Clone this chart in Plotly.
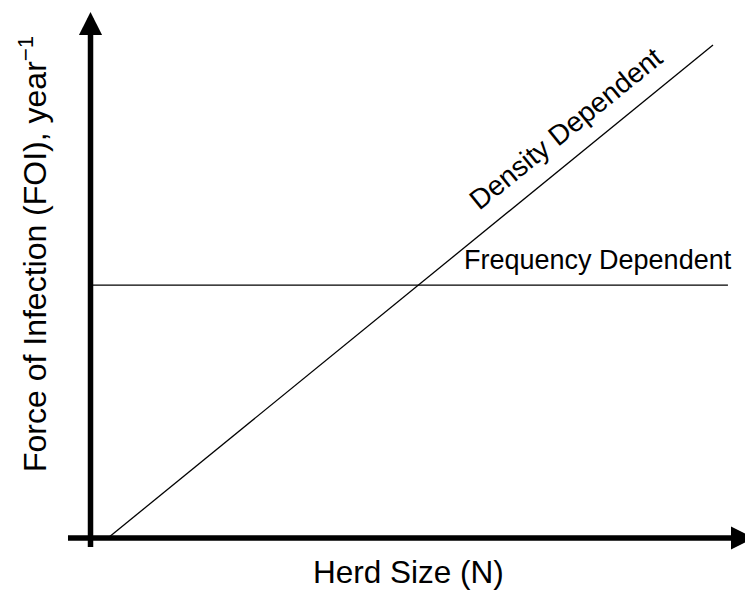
import plotly.graph_objects as go

# schematic: force of infection vs herd size
herd_size_density = [0.28, 10.0]
foi_density = [0.0, 10.0]
herd_size_freq = [0.0, 10.24]
foi_freq = [5.13, 5.13]

line_labels = ["Density Dependent", "Frequency Dependent"]
x_title = "Herd Size (N)"
y_title = "Force of Infection (FOI), year<sup>\u22121</sup>"

FONT = "Liberation Sans, Arial, sans-serif"

fig = go.Figure()

fig.add_trace(go.Scatter(
    x=herd_size_density, y=foi_density, mode="lines",
    line=dict(color="black", width=1.3), hoverinfo="skip", showlegend=False
))
fig.add_trace(go.Scatter(
    x=herd_size_freq, y=foi_freq, mode="lines",
    line=dict(color="black", width=1.3), hoverinfo="skip", showlegend=False
))

# axis arrows
arrow = dict(showarrow=True, arrowhead=2, arrowwidth=5.5, arrowsize=0.84,
             arrowcolor="black", xref="x", yref="y", axref="x", ayref="y",
             text=" ", standoff=0, startstandoff=0)
annotations = [
    dict(x=0, y=10.67, ax=0, ay=-0.385, **arrow),
    dict(x=10.66, y=0, ax=-0.41, ay=0, **arrow),
    dict(x=7.64, y=8.3, xref="x", yref="y", text=line_labels[0], showarrow=False,
         textangle=-39, xanchor="center", yanchor="middle",
         font=dict(size=28, color="black", family=FONT)),
    dict(x=8.15, y=5.64, xref="x", yref="y", text=line_labels[1], showarrow=False,
         xanchor="center", yanchor="middle",
         font=dict(size=27, color="black", family=FONT)),
    dict(x=408 / 745, y=1 - 572 / 592, xref="paper", yref="paper", text=x_title,
         showarrow=False, xanchor="center", yanchor="middle",
         font=dict(size=31.5, color="black", family=FONT)),
    dict(x=33 / 745, y=1 - 254 / 592, xref="paper", yref="paper", text=y_title,
         showarrow=False, textangle=-90, xanchor="center", yanchor="middle",
         font=dict(size=32, color="black", family=FONT)),
]

fig.update_layout(
    width=745, height=592, autosize=False,
    margin=dict(l=0, r=0, t=0, b=0),
    paper_bgcolor="white", plot_bgcolor="white",
    xaxis=dict(range=[-1.454, 10.514], visible=False, fixedrange=True),
    yaxis=dict(range=[-1.095, 10.913], visible=False, fixedrange=True),
    annotations=annotations,
    showlegend=False,
)

fig.write_html("out.html", config={"displayModeBar": False},
               post_script="document.body.style.margin='0';document.body.style.overflow='hidden';")
